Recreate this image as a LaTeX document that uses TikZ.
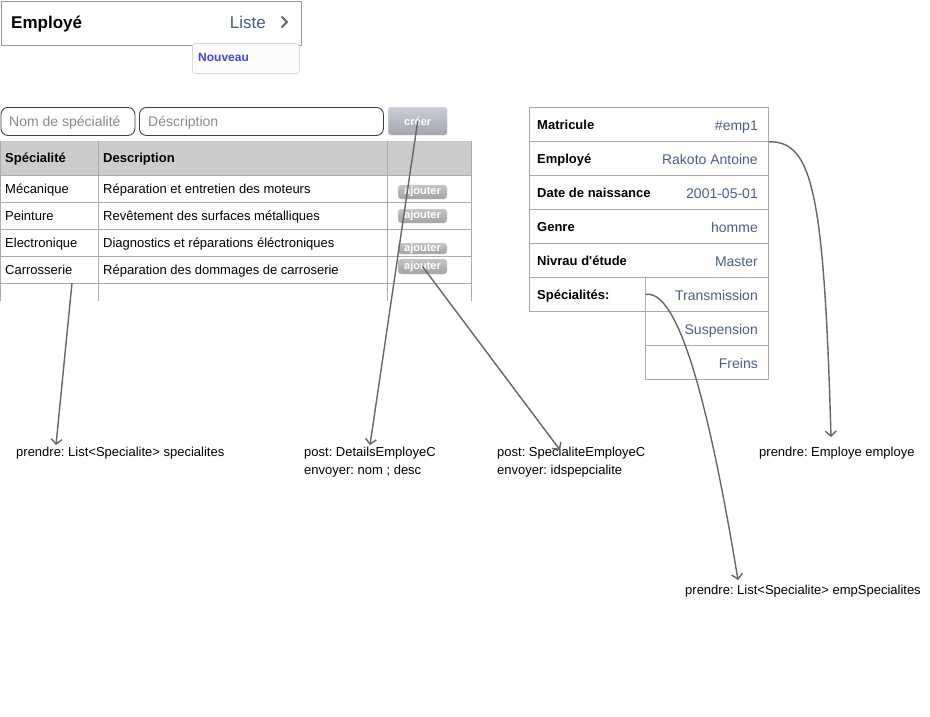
\documentclass[tikz,border=0pt]{standalone}
\usepackage{fontspec}
\setmainfont{Liberation Sans}[Ligatures=TeXOff]
\frenchspacing
\usetikzlibrary{arrows.meta,calc}
\definecolor{valblue}{HTML}{4A5E8A}
\definecolor{nouv}{HTML}{4646E6}
\definecolor{arr}{HTML}{666666}
\definecolor{gridc}{HTML}{ABABAB}
\definecolor{hdrfill}{HTML}{CCCCCC}
\definecolor{phc}{HTML}{8A8A8A}
\definecolor{crtop}{HTML}{CBCDD6}
\definecolor{crbot}{HTML}{A2A5B2}
\definecolor{ajtop}{HTML}{C4C4C4}
\definecolor{ajbot}{HTML}{A2A2A2}
\begin{document}
\begin{tikzpicture}[x=1pt,y=-1pt,
  txt/.style={inner sep=0,anchor=base west,font=\fontsize{13pt}{15pt}\selectfont},
  btxt/.style={txt,font=\fontsize{13pt}{15pt}\selectfont\bfseries},
  val/.style={inner sep=0,anchor=base east,text=valblue,font=\fontsize{14pt}{16pt}\selectfont},
  cell/.style={draw=gridc,fill=white,line width=0.8pt,inner sep=0,anchor=north west,minimum width=239pt,minimum height=34pt},
  field/.style={draw=black!75,fill=white,rounded corners=7pt,line width=0.9pt,inner sep=0,anchor=north west,minimum height=28pt},
  ph/.style={inner sep=0,anchor=base west,text=phc,font=\fontsize{14pt}{16pt}\selectfont},
  btn/.style={rounded corners=3pt,top color=ajtop,bottom color=ajbot,draw=black!15,line width=0.4pt,text=white,inner sep=0,font=\fontsize{11pt}{12pt}\selectfont\bfseries},
  conn/.style={draw=arr,line width=1.4pt,-{Straight Barb[length=5pt,width=11pt]}}]
\useasboundingbox (0,0) rectangle (930,716);
\fill[white] (0,0) rectangle (930,716);

% header bar
\node[draw=black!40,line width=0.9pt,fill=white,inner sep=0,anchor=north west,minimum width=300pt,minimum height=44pt] (hdr) at (0.5,0.5) {};
\node[inner sep=0,anchor=base west,font=\fontsize{17pt}{19pt}\selectfont\bfseries] (hdrtitle) at (11,28.5) {Employé};
\node[inner sep=0,anchor=base east,text=valblue,font=\fontsize{17pt}{19pt}\selectfont] (liste) at (266,28.5) {Liste};
\draw[black!60,line width=1.8pt] (281.5,16.5) -- (287,22) -- (281.5,27.5);
% Nouveau tab
\node[draw=black!15,fill=black!1,rounded corners=3pt,line width=0.8pt,inner sep=0,anchor=north west,minimum width=107pt,minimum height=30pt] (tab) at (192,43) {};
\node[inner sep=0,anchor=base west,text=nouv,font=\fontsize{12pt}{14pt}\selectfont\bfseries] (nouveau) at (198,61.8) {Nouveau};

% input fields
\node[field,minimum width=134pt] (f1) at (0.5,107) {};
\node[ph] (f1t) at (9,126.5) {Nom de spécialité};
\node[field,minimum width=244pt] (f2) at (139,107) {};
\node[ph] (f2t) at (148,126.5) {Déscription};
\node[rounded corners=2.5pt,top color=crtop,bottom color=crbot,draw=black!12,line width=0.4pt,inner sep=0,anchor=north west,minimum width=59pt,minimum height=28pt,text=white,font=\fontsize{11pt}{12pt}\selectfont\bfseries] (creer) at (388,107) {créer};

% table
\fill[hdrfill] (0,141) rectangle (471,175);
\foreach \yy in {175,202,229,256,283} \draw[gridc,line width=0.8pt] (0,\yy) -- (471,\yy);
\foreach \xx in {0.5,98,387,471} \draw[gridc,line width=0.8pt] (\xx,141) -- (\xx,301);
\node[btxt] (th1) at (5,162.5) {Spécialité};
\node[btxt] (th2) at (103,162.5) {Description};
\node[txt] (t11) at (5,193.5) {Mécanique};
\node[txt] (t12) at (103,193.5) {Réparation et entretien des moteurs};
\node[txt] (t21) at (5,220.5) {Peinture};
\node[txt] (t22) at (103,220.5) {Revêtement des surfaces métalliques};
\node[txt] (t31) at (5,247.5) {Electronique};
\node[txt] (t32) at (103,247.5) {Diagnostics et réparations éléctroniques};
\node[txt] (t41) at (5,274.5) {Carrosserie};
\node[txt] (t42) at (103,274.5) {Réparation des dommages de carroserie};
\node[btn,minimum width=49pt,minimum height=14pt] (aj1) at (422.5,192) {ajouter};
\node[btn,minimum width=49pt,minimum height=14pt] (aj2) at (422.5,216) {ajouter};
\node[btn,minimum width=49pt,minimum height=11pt] (aj3) at (422.5,248.5) {ajouter};
\node[btn,minimum width=49pt,minimum height=15pt] (aj4) at (422.5,266.5) {ajouter};

% employee card
\node[cell] (m1) at (529,107) {};
\node[cell] (m2) at (529,141) {};
\node[cell] (m3) at (529,175) {};
\node[cell] (m4) at (529,209) {};
\node[cell] (m5) at (529,243) {};
\node[cell,minimum width=116pt] (m6) at (529,277) {};
\node[cell,minimum width=123pt] (s1) at (645,277) {};
\node[cell,minimum width=123pt] (s2) at (645,311) {};
\node[cell,minimum width=123pt] (s3) at (645,345) {};
\node[btxt] (l1) at (537,129.5) {Matricule};
\node[btxt] (l2) at (537,163.5) {Employé};
\node[btxt] (l3) at (537,197.5) {Date de naissance};
\node[btxt] (l4) at (537,231.5) {Genre};
\node[btxt] (l5) at (537,265.5) {Nivrau d'étude};
\node[btxt] (l6) at (537,299.5) {Spécialités:};
\node[val] (v1) at (758,130) {\#emp1};
\node[val] (v2) at (758,164) {Rakoto Antoine};
\node[val] (v3) at (758,198) {2001-05-01};
\node[val] (v4) at (758,232) {homme};
\node[val] (v5) at (758,266) {Master};
\node[val] (v6) at (758,300) {Transmission};
\node[val] (v7) at (758,334) {Suspension};
\node[val] (v8) at (758,368) {Freins};

% bottom labels
\node[txt] (lab1) at (16,456.5) {prendre: List<Specialite> specialites};
\node[txt] (lab2) at (304,456.5) {post: DetailsEmployeC};
\node[txt] (lab2b) at (304,474.5) {envoyer: nom ; desc};
\node[txt] (lab3) at (497,456.5) {post: SpecialiteEmployeC};
\node[txt] (lab3b) at (497,474.5) {envoyer: idspepcialite};
\node[txt] (lab4) at (759,456.5) {prendre: Employe employe};
\node[txt] (lab5) at (685,594.5) {prendre: List<Specialite> empSpecialites};

% connectors
\coordinate (c1) at (72,283);
\coordinate (e1) at (56,445);
\coordinate (e2) at (370,445);
\coordinate (e3) at (560,450);
\coordinate (e4) at (831,437);
\coordinate (e5) at (738,580);
\draw[conn] (c1) -- (e1);
\draw[conn] (creer.center) -- (e2);
\draw[conn] (aj4.center) -- (e3);
\draw[conn] (m1.south east) .. controls (812,141) and (824,190) .. (e4);
\draw[conn] (m6.east) .. controls (675,290) and (705,380) .. (e5);
\end{tikzpicture}
\end{document}
